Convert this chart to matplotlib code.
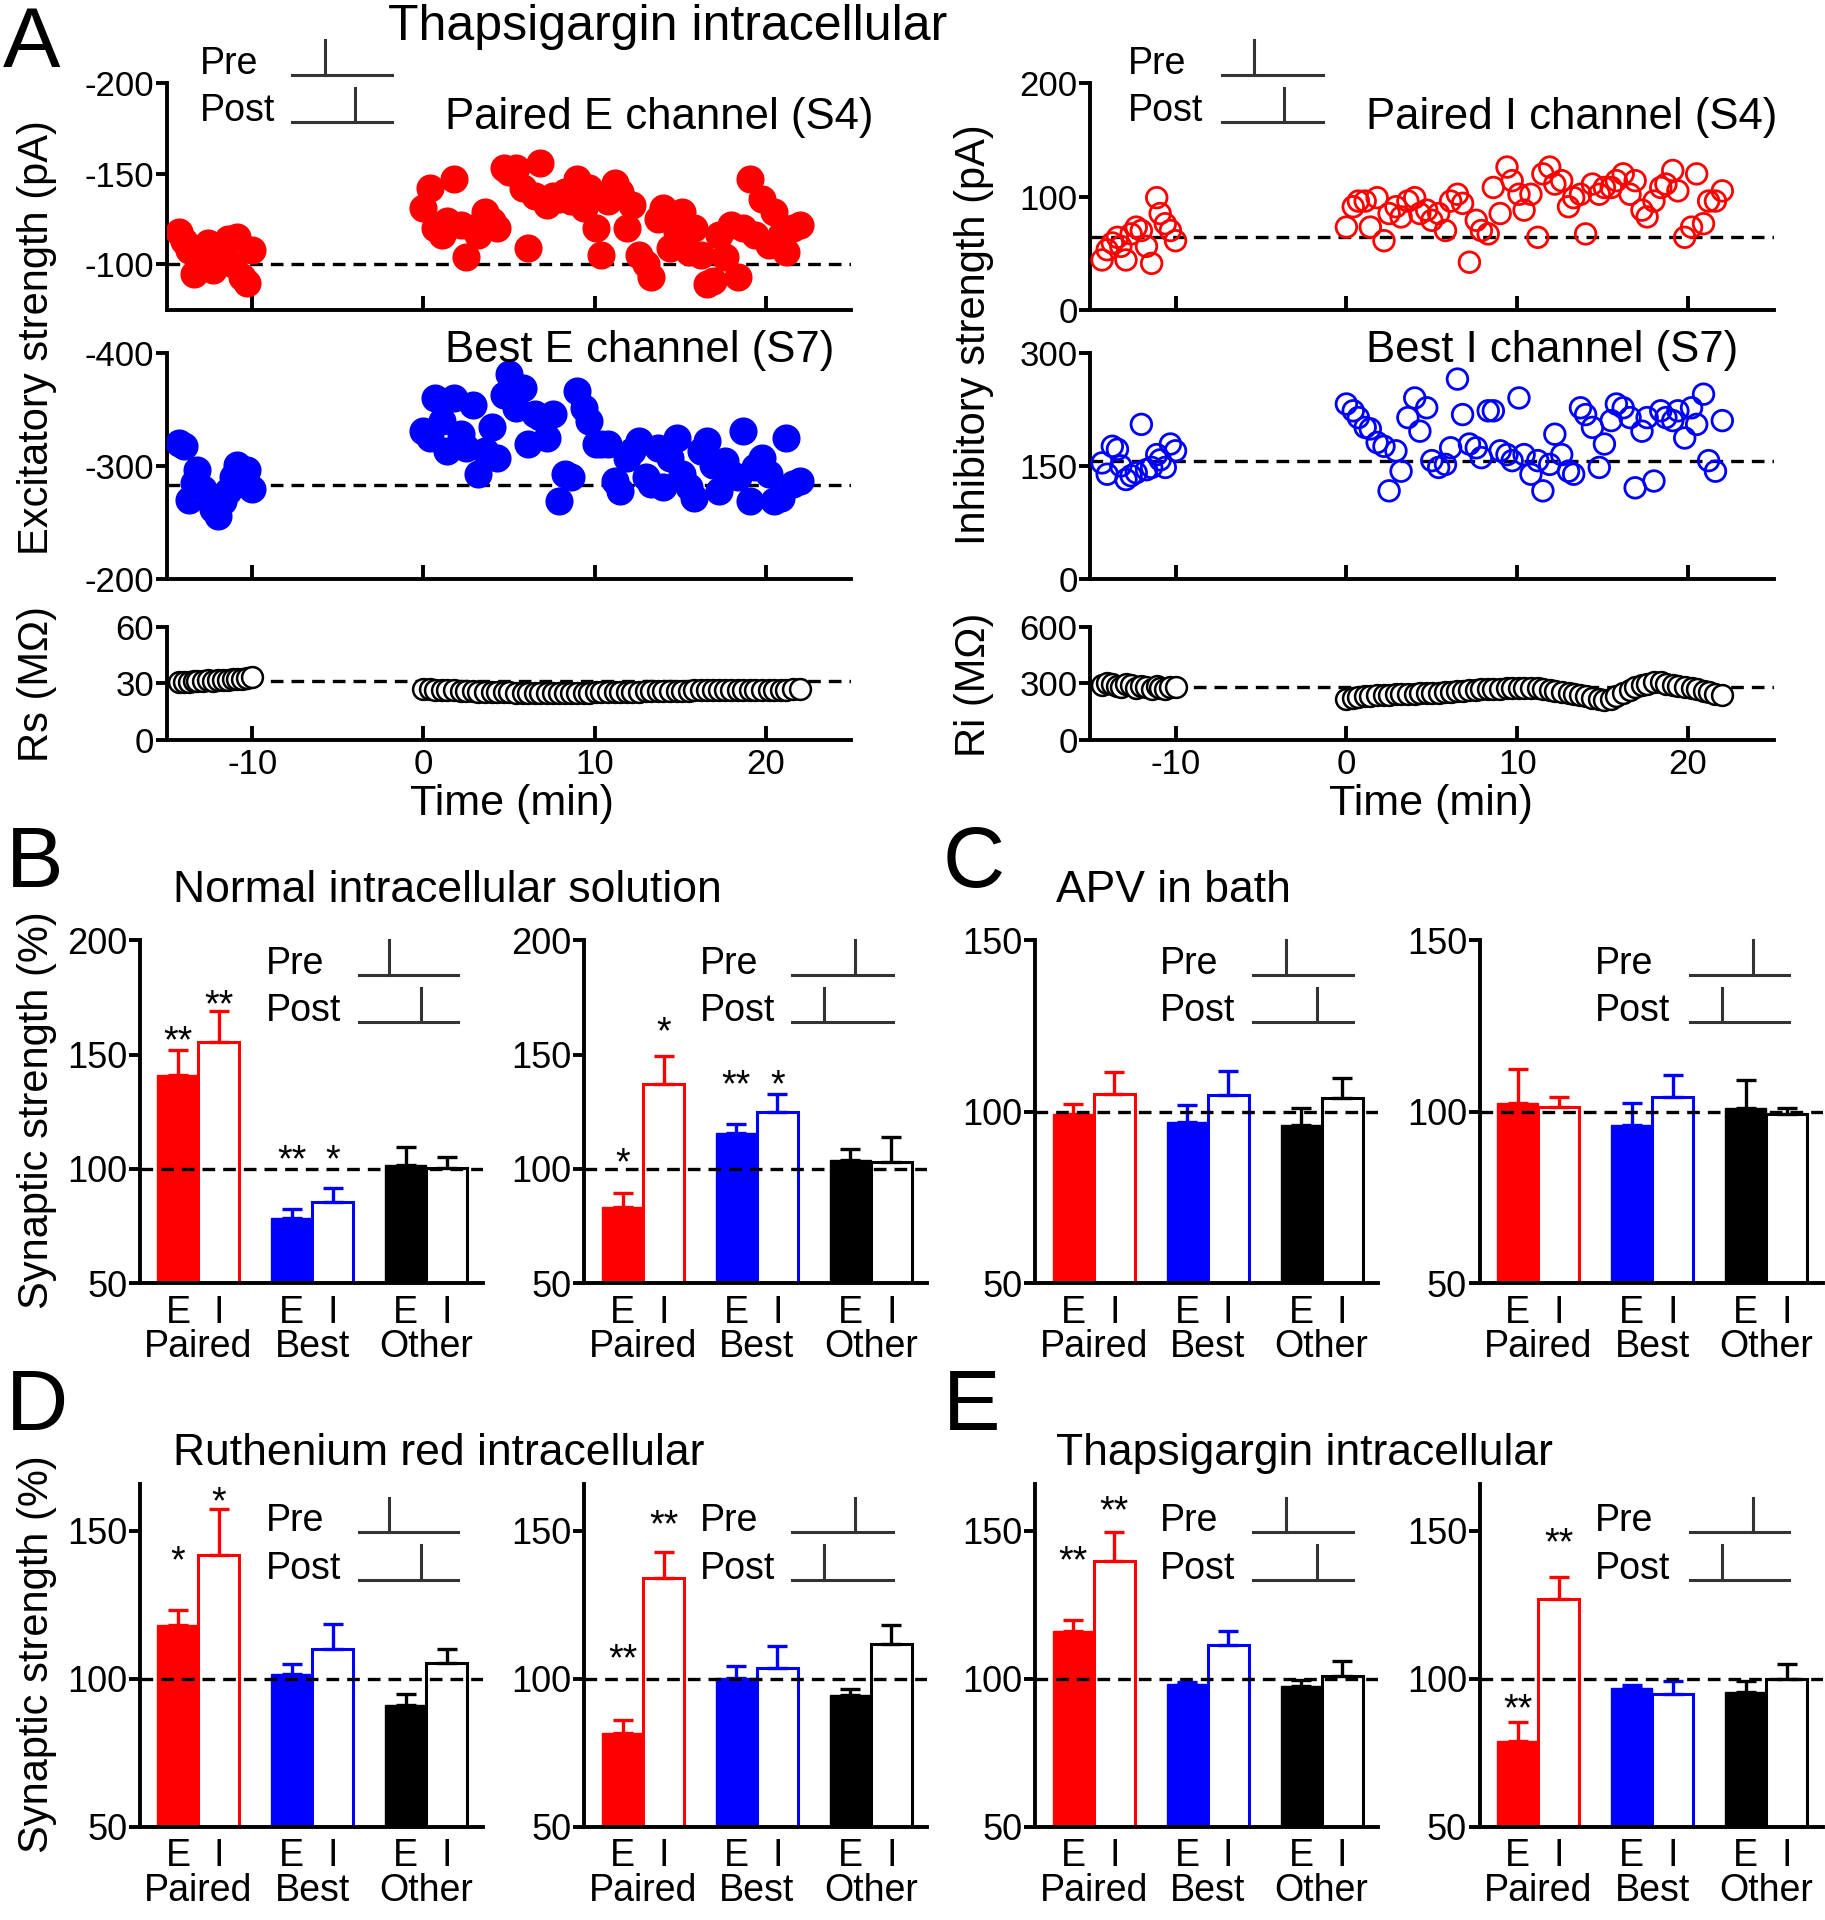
import numpy as np
import matplotlib
matplotlib.use('Agg')
import matplotlib.pyplot as plt
from matplotlib.lines import Line2D

plt.rcParams['font.family'] = ['Liberation Sans', 'DejaVu Sans']
plt.rcParams['axes.unicode_minus'] = False

# ---- panel A: time courses (min) ----
t_pre = [-14.3, -14.0, -13.7, -13.4, -13.2, -12.9, -12.6, -12.3, -12.0, -11.7,
         -11.4, -11.1, -10.9, -10.6, -10.3, -10.0]
t_post = [0.0, 0.4, 0.7, 1.1, 1.4, 1.8, 2.2, 2.5, 2.9, 3.2, 3.6, 4.0, 4.3, 4.7, 5.0,
          5.4, 5.8, 6.1, 6.5, 6.8, 7.2, 7.6, 7.9, 8.3, 8.6, 9.0, 9.4, 9.7, 10.1, 10.4,
          10.8, 11.2, 11.5, 11.9, 12.2, 12.6, 13.0, 13.3, 13.7, 14.0, 14.4, 14.8, 15.1,
          15.5, 15.8, 16.2, 16.6, 16.9, 17.3, 17.6, 18.0, 18.4, 18.7, 19.1, 19.4, 19.8,
          20.2, 20.5, 20.9, 21.2, 21.6, 22.0]

paired_e_pre = [-118, -113, -108, -95, -104, -100, -112, -97, -110, -103, -114, -100,
                -115, -93, -90, -108]
paired_e_post = [-131, -142, -120, -116, -124, -147, -122, -104, -120, -116, -129, -124,
                 -120, -153, -151, -153, -142, -109, -138, -156, -133, -138, -136, -140,
                 -135, -147, -131, -142, -120, -105, -135, -145, -140, -120, -133, -105,
                 -100, -93, -125, -131, -109, -118, -129, -107, -120, -105, -89, -91,
                 -116, -104, -122, -93, -120, -147, -116, -136, -111, -129, -116, -107,
                 -120, -122]
best_e_pre = [-320, -318, -270, -285, -296, -280, -272, -262, -256, -269, -278, -290,
              -301, -288, -296, -280]
best_e_post = [-331, -325, -360, -340, -313, -360, -328, -316, -354, -293, -313, -334,
               -307, -363, -381, -351, -369, -319, -346, -343, -325, -346, -269, -293,
               -290, -366, -351, -340, -319, -319, -319, -287, -278, -307, -313, -322,
               -290, -284, -316, -281, -307, -325, -293, -281, -272, -313, -322, -301,
               -278, -304, -293, -290, -331, -269, -299, -307, -293, -269, -272, -325,
               -284, -287]
paired_i_pre = [44, 53, 59, 64, 56, 44, 67, 73, 70, 56, 41, 99, 85, 76, 70, 61]
paired_i_post = [73, 91, 96, 96, 73, 99, 61, 85, 91, 82, 96, 99, 85, 88, 79, 85, 70, 96,
                 102, 94, 42, 79, 70, 67, 108, 85, 126, 114, 102, 88, 102, 64, 120, 126,
                 111, 114, 91, 99, 102, 67, 111, 102, 108, 108, 114, 120, 102, 114, 88,
                 82, 96, 108, 111, 123, 105, 64, 73, 120, 76, 96, 96, 105]
best_i_pre = [154, 139, 176, 172, 150, 132, 137, 141, 205, 145, 148, 165, 158, 148, 179,
              170]
best_i_post = [232, 223, 214, 201, 199, 181, 176, 117, 170, 143, 214, 240, 196, 227, 157,
               148, 152, 174, 265, 218, 179, 174, 161, 223, 223, 170, 165, 157, 240, 165,
               139, 157, 117, 152, 192, 165, 143, 139, 227, 218, 201, 148, 179, 210, 232,
               227, 214, 121, 196, 214, 130, 223, 214, 210, 223, 187, 227, 205, 245, 157,
               143, 210]
rs_pre = [30.5, 30.8, 30.5, 31.0, 31.2, 31.0, 31.5, 31.3, 31.8, 32.0, 31.8, 32.2, 32.5,
          32.3, 33.0, 33.5]
rs_post = [27.0, 26.8, 26.6, 26.5, 26.3, 26.2, 26.0, 25.9, 25.8, 25.6, 25.5, 25.4, 25.3,
           25.2, 25.1, 25.0, 24.9, 24.9, 24.8, 24.8, 24.7, 24.7, 24.7, 24.8, 24.8, 24.9,
           24.9, 25.0, 25.1, 25.2, 25.2, 25.3, 25.4, 25.5, 25.5, 25.6, 25.7, 25.8, 25.8,
           25.9, 26.0, 26.0, 26.1, 26.1, 26.2, 26.2, 26.3, 26.3, 26.3, 26.4, 26.4, 26.4,
           26.5, 26.5, 26.5, 26.5, 26.6, 26.6, 26.6, 26.6, 26.7, 26.8]
ri_pre = [290, 300, 295, 285, 280, 295, 290, 275, 285, 280, 270, 285, 275, 270, 280, 280]
ri_post = [215, 220, 225, 230, 233, 236, 238, 240, 242, 243, 245, 245, 247, 248, 248,
           250, 252, 255, 258, 260, 262, 265, 267, 268, 270, 272, 273, 275, 275, 276,
           275, 273, 270, 265, 260, 255, 250, 245, 238, 230, 222, 215, 210, 218, 232,
           248, 262, 278, 290, 298, 305, 305, 298, 290, 285, 280, 275, 268, 260, 252,
           245, 240]

# ---- panels B-E: bar summaries (%), order: paired E/I, best E/I, other E/I ----
b_left_mean = [141.3, 155.5, 78.7, 85.5, 101.7, 100.3]
b_left_err = [10.6, 13.8, 3.6, 6.1, 7.7, 5.1]
b_right_mean = [83.2, 137.2, 115.6, 124.9, 104.0, 102.9]
b_right_err = [6.4, 12.1, 4.0, 7.7, 4.7, 10.9]
c_left_mean = [99.3, 105.3, 97.1, 104.8, 96.3, 103.9]
c_left_err = [2.9, 6.3, 5.0, 7.1, 4.7, 6.1]
c_right_mean = [102.7, 101.5, 96.1, 104.2, 101.2, 99.5]
c_right_err = [9.8, 2.9, 6.5, 6.6, 8.1, 1.7]
d_left_mean = [118.3, 141.6, 101.5, 110.1, 91.2, 105.3]
d_left_err = [5.0, 15.7, 3.6, 8.4, 3.5, 4.8]
d_right_mean = [81.8, 133.9, 100.2, 103.6, 94.4, 111.8]
d_right_err = [4.2, 9.0, 4.1, 7.3, 2.1, 6.5]
e_left_mean = [116.0, 139.7, 98.3, 111.5, 97.4, 101.0]
e_left_err = [4.0, 9.8, 0.5, 4.5, 2.3, 4.9]
e_right_mean = [79.0, 127.0, 96.8, 94.8, 95.4, 100.0]
e_right_err = [6.3, 7.5, 1.2, 4.5, 3.9, 5.0]

# significance marks: (bar index, label, y)
b_left_stars = [(0, '**', 160), (1, '**', 176), (2, '**', 108), (3, '*', 108)]
b_right_stars = [(0, '*', 107), (1, '*', 164), (2, '**', 141), (3, '*', 141)]
d_left_stars = [(0, '*', 143), (1, '*', 163)]
d_right_stars = [(0, '**', 110), (1, '**', 155)]
e_left_stars = [(0, '**', 143), (1, '**', 160)]
e_right_stars = [(0, '**', 93), (1, '**', 149)]

groups = ['Paired', 'Best', 'Other']
group_colors = ['red', 'blue', 'black']

fig = plt.figure(figsize=(18.25, 19.2), dpi=100)
W, H = 1490.0, 1568.0   # layout measured on the 1490 x 1568 view
LW = 2.8
DASH = (0, (3.8, 2.4))


def rect(x0, y0, x1, y1):
    return [x0 / W, 1 - y1 / H, (x1 - x0) / W, (y1 - y0) / H]


def ftext(x, y, s, **kw):
    fig.text(x / W, 1 - y / H, s, **kw)


def fline(xs, ys, **kw):
    fig.add_artist(Line2D([x / W for x in xs], [1 - y / H for y in ys],
                          transform=fig.transFigure, **kw))


def base_style(ax):
    for s in ('top', 'right'):
        ax.spines[s].set_visible(False)
    for s in ('left', 'bottom'):
        ax.spines[s].set_linewidth(LW)
    ax.tick_params(axis='y', direction='out', length=8, width=LW, pad=1)


def prepost(xt, y0, x0, x1, pre_tick, post_tick):
    for lab, yl, xk in (('Pre', y0, pre_tick), ('Post', y0 + 39, post_tick)):
        ftext(xt, yl - 9, lab, fontsize=27, va='center', ha='left')
        fline([x0, x1], [yl, yl], color='#333333', lw=2.2)
        fline([xk, xk], [yl, yl - 28], color='#333333', lw=2.2)


def time_panel(box, pre_v, post_v, base, ylim, yticks, kind, color, show_x):
    ax = fig.add_axes(rect(*box))
    base_style(ax)
    ax.set_xlim(-15, 25)
    ax.set_ylim(*ylim)
    ax.set_yticks(yticks, labels=[str(v) for v in yticks], fontsize=25)
    ax.set_xticks([-10, 0, 10, 20])
    ax.tick_params(axis='x', direction='in', length=10, width=LW, pad=6)
    if show_x:
        ax.set_xticklabels(['-10', '0', '10', '20'], fontsize=25)
    else:
        ax.set_xticklabels([])
    ax.axhline(base, color='black', lw=2.4, ls=DASH, zorder=1)
    for t, v in ((t_pre, pre_v), (t_post, post_v)):
        if kind == 'filled':
            ax.scatter(t, v, s=370, color=color, edgecolors=color, zorder=3)
        elif kind == 'open':
            ax.scatter(t, v, s=220, facecolors='none', edgecolors=color,
                       linewidths=2.0, zorder=3)
        else:
            ax.plot(t, v, 'o', ms=15, mfc='white', mec='black', mew=1.8,
                    zorder=3, clip_on=False)
    return ax


# ---- panel A ----
time_panel((136, 68, 695, 253), paired_e_pre, paired_e_post, -100, (-75, -200),
           [-200, -150, -100], 'filled', 'red', False)
time_panel((136, 288, 695, 473), best_e_pre, best_e_post, -283, (-200, -400),
           [-400, -300, -200], 'filled', 'blue', False)
time_panel((136, 512, 695, 604), rs_pre, rs_post, 31, (0, 60),
           [0, 30, 60], 'r', 'black', True)
time_panel((890, 68, 1448, 253), paired_i_pre, paired_i_post, 64, (0, 200),
           [0, 100, 200], 'open', 'red', False)
time_panel((890, 288, 1448, 473), best_i_pre, best_i_post, 157, (0, 300),
           [0, 150, 300], 'open', 'blue', False)
time_panel((890, 512, 1448, 604), ri_pre, ri_post, 280, (0, 600),
           [0, 300, 600], 'r', 'black', True)

ftext(26, 55, 'A', fontsize=62, ha='center', va='baseline')
ftext(545, 22, 'Thapsigargin intracellular', fontsize=36, ha='center', va='center')
ftext(363, 96, 'Paired E channel (S4)', fontsize=31.5, ha='left', va='center')
ftext(363, 286, 'Best E channel (S7)', fontsize=31.5, ha='left', va='center')
ftext(1115, 96, 'Paired I channel (S4)', fontsize=31.5, ha='left', va='center')
ftext(1115, 286, 'Best I channel (S7)', fontsize=31.5, ha='left', va='center')
ftext(30, 276, 'Excitatory strength (pA)', fontsize=30, rotation=90,
      ha='center', va='center')
ftext(30, 559, 'Rs (M\u03a9)', fontsize=30, rotation=90, ha='center', va='center')
ftext(795, 273, 'Inhibitory strength (pA)', fontsize=30, rotation=90,
      ha='center', va='center')
ftext(795, 559, 'Ri (M\u03a9)', fontsize=30, rotation=90, ha='center', va='center')
ftext(418, 657, 'Time (min)', fontsize=31, ha='center', va='center')
ftext(1168, 657, 'Time (min)', fontsize=31, ha='center', va='center')
prepost(163, 61, 238, 320, 265, 290)
prepost(921, 61, 998, 1080, 1024, 1048)


# ---- bar panels ----
def bar_panel(box, means, errs, stars, ylim, yticks, lab_y):
    ax = fig.add_axes(rect(*box))
    base_style(ax)
    ax.set_xlim(0.484, 3.495)
    ax.set_ylim(*ylim)
    ax.set_yticks(yticks, labels=[str(v) for v in yticks], fontsize=26)
    ax.set_xticks([])
    w = 0.36
    xs = []
    for g in range(3):
        xs += [g + 1 - w / 2, g + 1 + w / 2]
    for i, (x, m, e) in enumerate(zip(xs, means, errs)):
        c = group_colors[i // 2]
        if i % 2 == 0:
            ax.bar(x, m, width=w, color=c, edgecolor=c, lw=1, zorder=2)
        else:
            ax.bar(x, m, width=w, color='white', edgecolor=c, lw=2.2, zorder=2)
        ax.errorbar(x, m, yerr=[[0], [e]], fmt='none', ecolor=c, elinewidth=2.4,
                    capsize=7, capthick=2.4, zorder=3)
    ax.axhline(100, color='black', lw=2.4, ls=DASH, zorder=4)
    for i, s, y in stars:
        ax.annotate(s, (xs[i], y), xytext=(0, -15), textcoords='offset points',
                    ha='center', va='baseline', fontsize=27)
    tr = ax.get_xaxis_transform()
    h = box[3] - box[1]
    for i, x in enumerate(xs):
        ax.text(x, -(lab_y - box[3]) / h, 'EI'[i % 2], transform=tr, ha='center',
                va='center', fontsize=27, clip_on=False)
    for g in range(3):
        ax.text(g + 1, -(lab_y + 28 - box[3]) / h, groups[g], transform=tr,
                ha='center', va='center', fontsize=27, clip_on=False)
    return ax


bar_panel((114, 768, 394, 1048), b_left_mean, b_left_err, b_left_stars,
          (50, 200), [50, 100, 150, 200], 1072)
bar_panel((477, 768, 757, 1048), b_right_mean, b_right_err, b_right_stars,
          (50, 200), [50, 100, 150, 200], 1072)
bar_panel((845, 768, 1125, 1048), c_left_mean, c_left_err, [],
          (50, 150), [50, 100, 150], 1072)
bar_panel((1208, 768, 1488, 1048), c_right_mean, c_right_err, [],
          (50, 150), [50, 100, 150], 1072)
bar_panel((114, 1212, 394, 1492), d_left_mean, d_left_err, d_left_stars,
          (50, 165.7), [50, 100, 150], 1516)
bar_panel((477, 1212, 757, 1492), d_right_mean, d_right_err, d_right_stars,
          (50, 165.7), [50, 100, 150], 1516)
bar_panel((845, 1212, 1125, 1492), e_left_mean, e_left_err, e_left_stars,
          (50, 165.7), [50, 100, 150], 1516)
bar_panel((1208, 1212, 1488, 1492), e_right_mean, e_right_err, e_right_stars,
          (50, 165.7), [50, 100, 150], 1516)

ftext(28, 724, 'B', fontsize=62, ha='center', va='baseline')
ftext(795, 724, 'C', fontsize=62, ha='center', va='baseline')
ftext(30, 1168, 'D', fontsize=62, ha='center', va='baseline')
ftext(793, 1168, 'E', fontsize=62, ha='center', va='baseline')
ftext(141, 727, 'Normal intracellular solution', fontsize=32, ha='left', va='center')
ftext(862, 727, 'APV in bath', fontsize=32, ha='left', va='center')
ftext(141, 1187, 'Ruthenium red intracellular', fontsize=32, ha='left', va='center')
ftext(862, 1187, 'Thapsigargin intracellular', fontsize=32, ha='left', va='center')
ftext(30, 907, 'Synaptic strength (%)', fontsize=30, rotation=90, ha='center', va='center')
ftext(30, 1351, 'Synaptic strength (%)', fontsize=30, rotation=90, ha='center', va='center')

for y0 in (796, 1251):
    prepost(217, y0, 293, 374, 318, 344)
    prepost(571, y0, 647, 729, 698, 673)
    prepost(947, y0, 1023, 1105, 1050, 1075)
    prepost(1302, y0, 1380, 1461, 1431, 1406)

fig.savefig('out.png', dpi=100)
